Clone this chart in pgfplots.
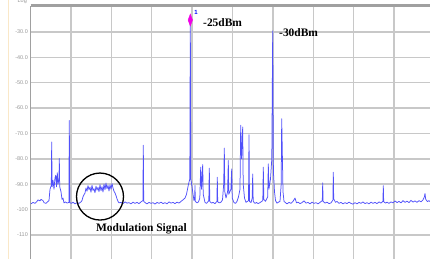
\documentclass[border=0pt]{standalone}
\usepackage{fontspec}
\setmainfont{Liberation Serif}
\setsansfont{Liberation Sans}
\usepackage{pgfplots}
\pgfplotsset{compat=1.18}
\definecolor{trace}{RGB}{80,80,250}
\definecolor{gridc}{RGB}{200,200,200}
\definecolor{framec}{RGB}{160,160,160}
\definecolor{lblc}{RGB}{150,150,150}
\definecolor{beige}{RGB}{250,232,200}
\definecolor{mkr}{RGB}{240,0,230}
\begin{document}
\begin{tikzpicture}
\draw[beige, line width=1bp] (8bp,0) -- (8bp,259bp);
\begin{axis}[
  at={(30.5bp,252.4bp)}, anchor=north west,
  width=404bp, height=253.6bp, scale only axis,
  xmin=30.5, xmax=434.5, ymin=-120, ymax=-20,
  xtick={70.9,111.3,151.7,192.1,232.5,272.9,313.3,353.7,394.1},
  xticklabels={},
  ytick={-30,-40,-50,-60,-70,-80,-90,-100,-110},
  yticklabels={-30.0,-40.0,-50.0,-60.0,-70.0,-80.0,-90.0,-100,-110},
  yticklabel style={font=\sffamily\fontsize{5.5}{6}\selectfont, text=lblc, inner sep=0pt, xshift=-2.5bp},
  tick style={draw=none},
  grid=major,
  major grid style={gridc, line width=1.5bp},
  axis line style={framec, line width=1.6bp},
  clip=false,
]
\addplot[trace, line width=0.75bp, line join=round] coordinates {
(31,-97.8) (33,-97.2) (35,-97.6) (37,-96.8) (38,-96.2) (40,-96.6) (41,-96.0) (43,-96.5) (44,-97.3) (46,-97.6) (47.5,-97.0) (49,-96.5)
(50,-92.0) (51.3,-90.5) (51.7,-73.4) (52.1,-91) (53,-88.5) (54,-92) (55,-87.5) (55.8,-86.5) (56.5,-91) (57.3,-85.5) (58,-90) (59,-88) (59.3,-79.9) (59.7,-91) (61,-93) (62,-96) (63,-95.5) (64,-97.4) (65.5,-97) (67,-97.5) (68.9,-97.2) (69.3,-64.9) (69.7,-97.3) (71.5,-97.6) (73,-97.1) (75,-97.8) (77,-97.3) (79,-97.6) (81,-97)
(82,-96.5) (83,-95) (84,-94.2) (85,-93.5) (86,-91.5) (87,-92.8) (88,-90.6) (89,-92.2) (90,-91.2) (91,-93.2) (92,-90.5) (93,-92.5) (94,-91.8) (95,-93.4) (96,-90.8) (97,-92.4) (98,-91.3) (99,-93.0) (100,-90.2) (101,-92.6) (102,-91.0) (103,-93.1) (104,-90.0) (105,-92.2) (106,-89.6) (107,-91.8) (108,-90.5) (109,-92.7) (110,-90.3) (111,-92.0) (112,-89.8) (113,-91.5) (114,-92.8) (115,-93.5) (116,-94.5) (117,-95.8) (118,-96.8) (119,-97.4)
(121,-97.2) (123,-97.7) (125,-97.0) (127,-97.5) (129,-97.3) (131,-97.8) (133,-97.1) (135,-97.6) (137,-97.2) (139,-97.7) (141,-97.0) (142.9,-96.5) (143.3,-74.7) (143.7,-96.8) (145.5,-97.4) (147,-97.8) (149,-97.2) (151,-97.6) (153,-97.3) (155,-97.9) (157,-97.2) (159,-97.6) (161,-97.1) (163,-97.7) (165,-97.3) (167,-97.8) (169,-97.0) (171,-97.5) (173,-97.2) (175,-97.7) (177,-97.1) (179,-97.5) (181,-96.8) (183,-96.2) (185,-95.5) (186.5,-94) (187.5,-92) (188.5,-90) (189.8,-88) (190.3,-25.2) (190.8,-88) (192,-91) (193,-94) (194,-96.5) (194.7,-95) (195,-90.5) (195.3,-96.8) (197,-97.4) (198.5,-97.0) (199.8,-95.5) (200.7,-83.3) (201.5,-92) (202.7,-82.3) (203.2,-94) (205,-97.2) (206.5,-97.6) (208.8,-96.5) (209.3,-83.7) (209.8,-96.8) (211.5,-97.5) (213,-97.2) (215,-97.7) (216.9,-96.8) (217.3,-87.3) (217.7,-97.0) (219.5,-97.4) (221,-97.1) (222.5,-96.2) (223.7,-90) (224.3,-75.8) (224.8,-93) (226,-95.5) (227.6,-93) (228.3,-80.7) (228.8,-94) (230.9,-92) (231.7,-84) (232.2,-95.5) (234,-97.3) (235.5,-97.6) (237,-96.8) (238.5,-95) (240,-92) (240.7,-66.8) (241.5,-80) (242.7,-67.5) (243.2,-90) (244.5,-95.5) (246,-97.2) (248.5,-96.5) (249,-70.5) (249.5,-96.8) (251,-97.3) (252.2,-95.5) (252.7,-86) (253.2,-96.8) (255,-97.6) (256.5,-97.2) (258,-97.7) (260,-97.3) (262.8,-96.5) (263.3,-83.3) (263.8,-96) (265.5,-96.8) (267.7,-95) (268.3,-82) (268.9,-92) (270.5,-88) (271.8,-80) (272.7,-29.6) (273.4,-85) (274.5,-93) (275.5,-96.5) (277,-97.5) (278.5,-97.1) (280,-96.8) (281.2,-90) (281.7,-64.2) (282.2,-75) (283,-93) (284,-96.8) (285.5,-97.3) (287,-97.8) (289,-97.2) (291,-97.6) (293,-96.8) (295,-95.5) (296.5,-97.4) (298,-97.1) (300,-97.7) (302,-97.3) (304,-96.6) (306,-97.5) (308,-97.2) (310,-97.8) (312,-97.1) (314,-97.6) (316,-97.3) (318,-97.8) (320,-97.2) (322.3,-96.5) (322.7,-89.5) (323.1,-96.8) (325,-97.5) (327,-97.1) (329,-97.7) (331,-97.4) (332.9,-96.3) (333.3,-85.3) (333.7,-95.8) (335.5,-97.2) (337,-96.8) (339,-97.6) (341,-97.2) (343,-97.8) (345,-97.3) (347,-97.7) (349,-97.1) (351,-97.6) (353,-97.9) (355,-97.3) (357,-97.8) (359,-97.2) (361,-97.6) (363,-97.0) (365,-97.7) (367,-97.3) (369,-97.8) (371,-97.1) (373,-97.6) (375,-97.2) (377,-97.7) (379,-97.0) (381,-97.5) (382.9,-96.8) (383.3,-90.6) (383.7,-96.9) (385.5,-97.5) (387,-97.1) (389,-97.6) (391,-97.0) (393,-97.4) (395,-96.6) (397,-97.3) (399,-96.8) (401,-97.4) (403,-96.5) (405,-97.2) (407,-96.7) (409,-97.3) (411,-96.4) (413,-97.1) (415,-96.6) (417,-97.2) (419,-96.5) (421,-97.0) (423,-96.2) (424.4,-95) (425,-93.7) (425.7,-96) (427.5,-96.9) (429,-96.5) (431,-97.2)
};
\addplot[only marks, mark=diamond*, mark size=6bp, mark options={xscale=0.5, fill=mkr, draw=mkr}] coordinates {(190.3,-25.3)};
\node[font=\sffamily\bfseries\fontsize{6}{6}\selectfont, text=blue, inner sep=0pt] at (axis cs:196,-22.5) {1};
\node[font=\bfseries\fontsize{11.5}{12}\selectfont, anchor=west, inner sep=0pt] at (axis cs:203,-26.3) {-25dBm};
\node[font=\bfseries\fontsize{11.5}{12}\selectfont, anchor=west, inner sep=0pt] at (axis cs:279,-30.4) {-30dBm};
\node[font=\bfseries\fontsize{11.5}{12}\selectfont, inner sep=0pt] at (axis cs:141.5,-107.7) {Modulation Signal};
\draw[black, line width=1.3bp] (axis cs:100,-94.9) circle (23.5bp);
\end{axis}
\draw[framec, line width=3bp] (30.5bp,253bp) -- (440bp,253bp);
\node[font=\sffamily\fontsize{5.5}{6}\selectfont, text=lblc, anchor=east, inner sep=0pt] at (27bp,257.5bp) {Log};
\pgfresetboundingbox
\path[use as bounding box] (0,0) rectangle (430bp,259bp);
\end{tikzpicture}
\end{document}
